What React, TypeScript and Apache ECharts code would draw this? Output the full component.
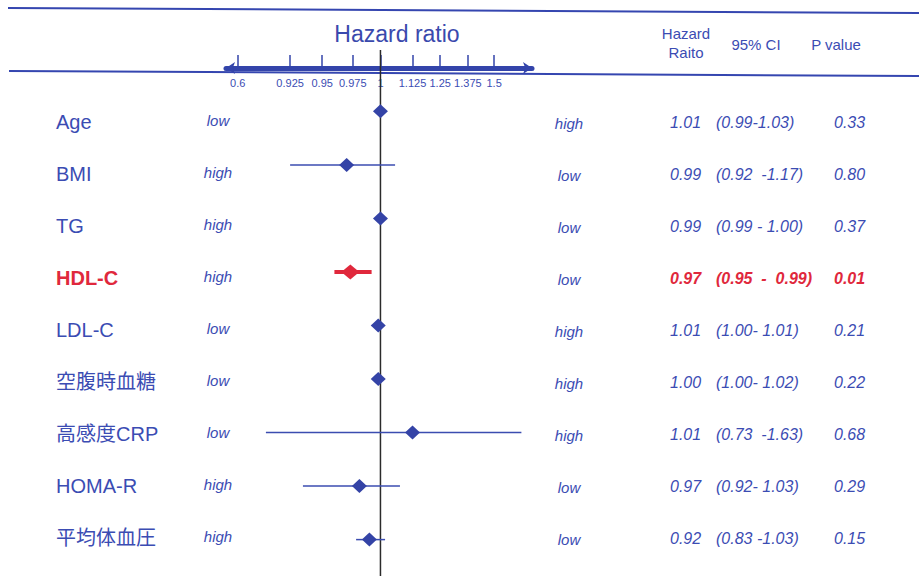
import React, { useEffect, useRef } from "react";
import * as echarts from "echarts";

// ---------- data ----------
const variables = ["Age", "BMI", "TG", "HDL-C", "LDL-C", "空腹時血糖", "高感度CRP", "HOMA-R", "平均体血圧"];
const leftDirection = ["low", "high", "high", "high", "low", "low", "low", "high", "high"];
const rightDirection = ["high", "low", "low", "low", "high", "high", "high", "low", "low"];
const hrText = ["1.01", "0.99", "0.99", "0.97", "1.01", "1.00", "1.01", "0.97", "0.92"];
const ciText = [
  "(0.99-1.03)",
  "(0.92  -1.17)",
  "(0.99 - 1.00)",
  "(0.95  -  0.99)",
  "(1.00- 1.01)",
  "(1.00- 1.02)",
  "(0.73  -1.63)",
  "(0.92- 1.03)",
  "(0.83 -1.03)",
];
const pText = ["0.33", "0.80", "0.37", "0.01", "0.21", "0.22", "0.68", "0.29", "0.15"];
const significant = [false, false, false, true, false, false, false, false, false];
// marker and whisker positions as drawn
const pointHR = [1.0, 0.97, 1.0, 0.973, 0.998, 0.998, 1.125, 0.981, 0.99];
const lowHR = [0.995, 0.925, 0.995, 0.96, 0.995, 0.995, 0.775, 0.935, 0.978];
const highHR = [1.006, 1.057, 1.006, 0.992, 1.004, 1.004, 1.63, 1.076, 1.018];
// axis ticks
const tickValues = [0.6, 0.925, 0.95, 0.975, 1, 1.125, 1.25, 1.375, 1.5];
const tickLabels = ["0.6", "0.925", "0.95", "0.975", "1", "1.125", "1.25", "1.375", "1.5"];

// ---------- the figure's non-linear scale (piecewise linear between ticks) ----------
const scaleStops = [0, 1.8, 2.9, 3.95, 4.9, 6, 6.95, 7.9, 8.8];
function toAxis(v: number): number {
  const n = tickValues.length;
  let i = 0;
  if (v <= tickValues[0]) i = 0;
  else if (v >= tickValues[n - 1]) i = n - 2;
  else {
    while (v > tickValues[i + 1]) i++;
  }
  const t = (v - tickValues[i]) / (tickValues[i + 1] - tickValues[i]);
  return scaleStops[i] + t * (scaleStops[i + 1] - scaleStops[i]);
}

const BLUE = "#3b4cb3";
const LINE_BLUE = "#3546b0";
const RED = "#e0283c";
const FONT = "'Liberation Sans', Arial, 'Noto Sans CJK JP', sans-serif";

export default function App() {
  const ref = useRef<HTMLDivElement>(null);
  useEffect(() => {
    const chart = echarts.init(ref.current!, null, { renderer: "svg" });

    const textY = (i: number) => 122 + 52 * i;
    const graphics: any[] = [];
    graphics.push({ type: "line", z: -1, shape: { x1: 8, y1: 8, x2: 919, y2: 13 }, style: { stroke: LINE_BLUE, lineWidth: 2 } });
    graphics.push({ type: "line", z: -1, shape: { x1: 9, y1: 71, x2: 919, y2: 76 }, style: { stroke: LINE_BLUE, lineWidth: 2 } });
    const txt = (text: string, x: number, y: number, o: any = {}) => ({
      type: "text",
      x,
      y,
      style: {
        text,
        fill: o.fill || BLUE,
        fontSize: o.fontSize || 16,
        fontFamily: FONT,
        fontStyle: o.fontStyle || "normal",
        fontWeight: o.fontWeight || "normal",
        textAlign: o.align || "left",
        textVerticalAlign: "middle",
      },
    });
    graphics.push(txt("Hazard ratio", 397, 34, { fontSize: 23, align: "center", fill: "#3a49ad" }));
    graphics.push(txt("Hazard", 686, 33, { fontSize: 15, align: "center" }));
    graphics.push(txt("Raito", 686, 52, { fontSize: 15, align: "center" }));
    graphics.push(txt("95% CI", 756, 44, { fontSize: 15, align: "center" }));
    graphics.push(txt("P value", 836, 44, { fontSize: 15, align: "center" }));

    variables.forEach((name, i) => {
      const y = textY(i);
      const sig = significant[i];
      const col = sig ? RED : BLUE;
      const fw = sig ? "bold" : "normal";
      graphics.push(txt(name, 56, y, { fontSize: 20, fill: col, fontWeight: fw }));
      graphics.push(txt(leftDirection[i], 218, y - 2, { fontSize: 15, fontStyle: "italic", align: "center" }));
      graphics.push(txt(rightDirection[i], 569, y + 1, { fontSize: 15, fontStyle: "italic", align: "center" }));
      graphics.push(txt(hrText[i], 670, y, { fontSize: 16, fontStyle: "italic", fill: col, fontWeight: fw }));
      graphics.push(txt(ciText[i], 716, y, { fontSize: 16, fontStyle: "italic", fill: col, fontWeight: fw }));
      graphics.push(txt(pText[i], 834, y, { fontSize: 16, fontStyle: "italic", fill: col, fontWeight: fw }));
    });

    const whiskerData = variables.map((_, i) => [toAxis(lowHR[i]), toAxis(highHR[i]), i, significant[i] ? 1 : 0]);
    const pointData = variables.map((_, i) => ({
      value: [toAxis(pointHR[i]), i],
      symbolSize: significant[i] ? [18, 15] : [15, 14],
      itemStyle: { color: significant[i] ? RED : "#3443a6", opacity: 1 },
    }));
    const refX = toAxis(1);

    const option: any = {
      animation: false,
      backgroundColor: "#ffffff",
      grid: { left: 226, right: 387, top: 68, bottom: 0 },
      xAxis: {
        type: "value",
        position: "top",
        min: -0.4,
        max: 10.1,
        splitLine: { show: false },
        axisLine: {
          show: true,
          onZero: false,
          lineStyle: { color: "#3344aa", width: 5 },
          symbol: ["arrow", "arrow"],
          symbolSize: [9, 9],
        },
        axisTick: {
          show: true,
          inside: false,
          length: 13,
          lineStyle: { color: "#3344aa", width: 1.5 },
          customValues: scaleStops,
        },
        axisLabel: {
          show: true,
          inside: true,
          margin: 9,
          fontSize: 11,
          fontFamily: FONT,
          color: BLUE,
          customValues: scaleStops,
          formatter: (v: number) => {
            const k = scaleStops.findIndex((s) => Math.abs(s - v) < 1e-6);
            return k >= 0 ? tickLabels[k] : "";
          },
        },
      },
      yAxis: {
        type: "value",
        inverse: true,
        min: -0.81,
        max: 8.68,
        show: false,
      },
      graphic: graphics,
      series: [
        {
          type: "line",
          data: [
            [refX, -1.144],
            [refX, 8.68],
          ],
          clip: false,
          symbol: "none",
          lineStyle: { color: "#2b2b2b", width: 1.5 },
          z: 10,
        },
        {
          type: "custom",
          data: whiskerData,
          encode: { x: [0, 1], y: 2 },
          z: 11,
          renderItem: (params: any, api: any) => {
            const a = api.coord([api.value(0), api.value(2)]);
            const b = api.coord([api.value(1), api.value(2)]);
            const sig = api.value(3) === 1;
            return {
              type: "line",
              shape: { x1: a[0], y1: a[1], x2: b[0], y2: b[1] },
              style: { stroke: sig ? RED : "#3b4cb0", lineWidth: sig ? 4 : 1.5 },
            };
          },
        },
        {
          type: "scatter",
          symbol: "diamond",
          data: pointData,
          z: 12,
        },
      ],
    };
    chart.setOption(option);
    return () => chart.dispose();
  }, []);
  return (
    <div
      ref={ref}
      style={{ position: "absolute", left: 0, top: 0, width: 919, height: 576, background: "#fff" }}
    />
  );
}
